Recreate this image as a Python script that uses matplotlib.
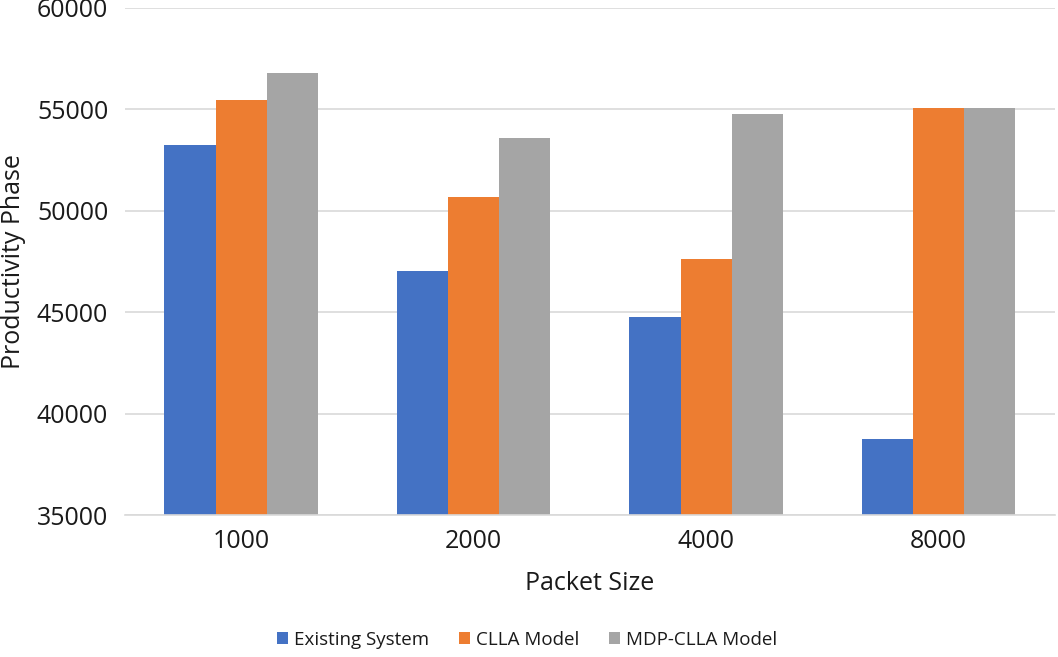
import matplotlib

matplotlib.use("Agg")
import matplotlib.pyplot as plt
import numpy as np

packet_sizes = ["1000", "2000", "4000", "8000"]
existing_system = [53250, 47050, 44770, 38760]
clla_model = [55450, 50680, 47640, 55050]
mdp_clla_model = [56800, 53600, 54790, 55050]

series_names = ["Existing System", "CLLA Model", "MDP-CLLA Model"]
series_colors = ["#4472C4", "#ED7D31", "#A5A5A5"]

plt.rcParams["font.family"] = ["Open Sans", "DejaVu Sans"]

fig = plt.figure(figsize=(10.58, 6.57), dpi=100)
axis = fig.add_axes([0.118, 0.216, 0.879, 0.772])

positions = np.arange(len(packet_sizes))
width = 0.22
for offset, values, name, color in zip(
    (-1, 0, 1), (existing_system, clla_model, mdp_clla_model), series_names, series_colors
):
    axis.bar(positions + offset * width, values, width, color=color, label=name, zorder=2)

axis.set_xlim(-0.5, len(packet_sizes) - 0.5)
axis.set_ylim(35000, 60000)
axis.set_yticks(range(35000, 60001, 5000))
axis.set_xticks(positions, packet_sizes)
axis.grid(axis="y", color="#D9D9D9", linewidth=1.2, zorder=0)
for side in ("top", "right", "left"):
    axis.spines[side].set_visible(False)
axis.spines["bottom"].set_color("#D9D9D9")
axis.spines["bottom"].set_linewidth(1.2)
axis.tick_params(length=0, labelsize=18, colors="#1a1a1a")
axis.tick_params(axis="y", pad=12)
axis.tick_params(axis="x", pad=10)
axis.set_xlabel("Packet Size", fontsize=18, labelpad=12, color="#1a1a1a")
axis.set_ylabel("Productivity Phase", fontsize=18, labelpad=8, color="#1a1a1a")
fig.legend(
    loc="center",
    bbox_to_anchor=(0.498, 0.026),
    ncol=3,
    frameon=False,
    fontsize=13.5,
    handlelength=0.6,
    handleheight=0.6,
    handletextpad=0.3,
    columnspacing=1.6,
    labelcolor="#1a1a1a",
)
fig.savefig("out.png")
plt.close(fig)
